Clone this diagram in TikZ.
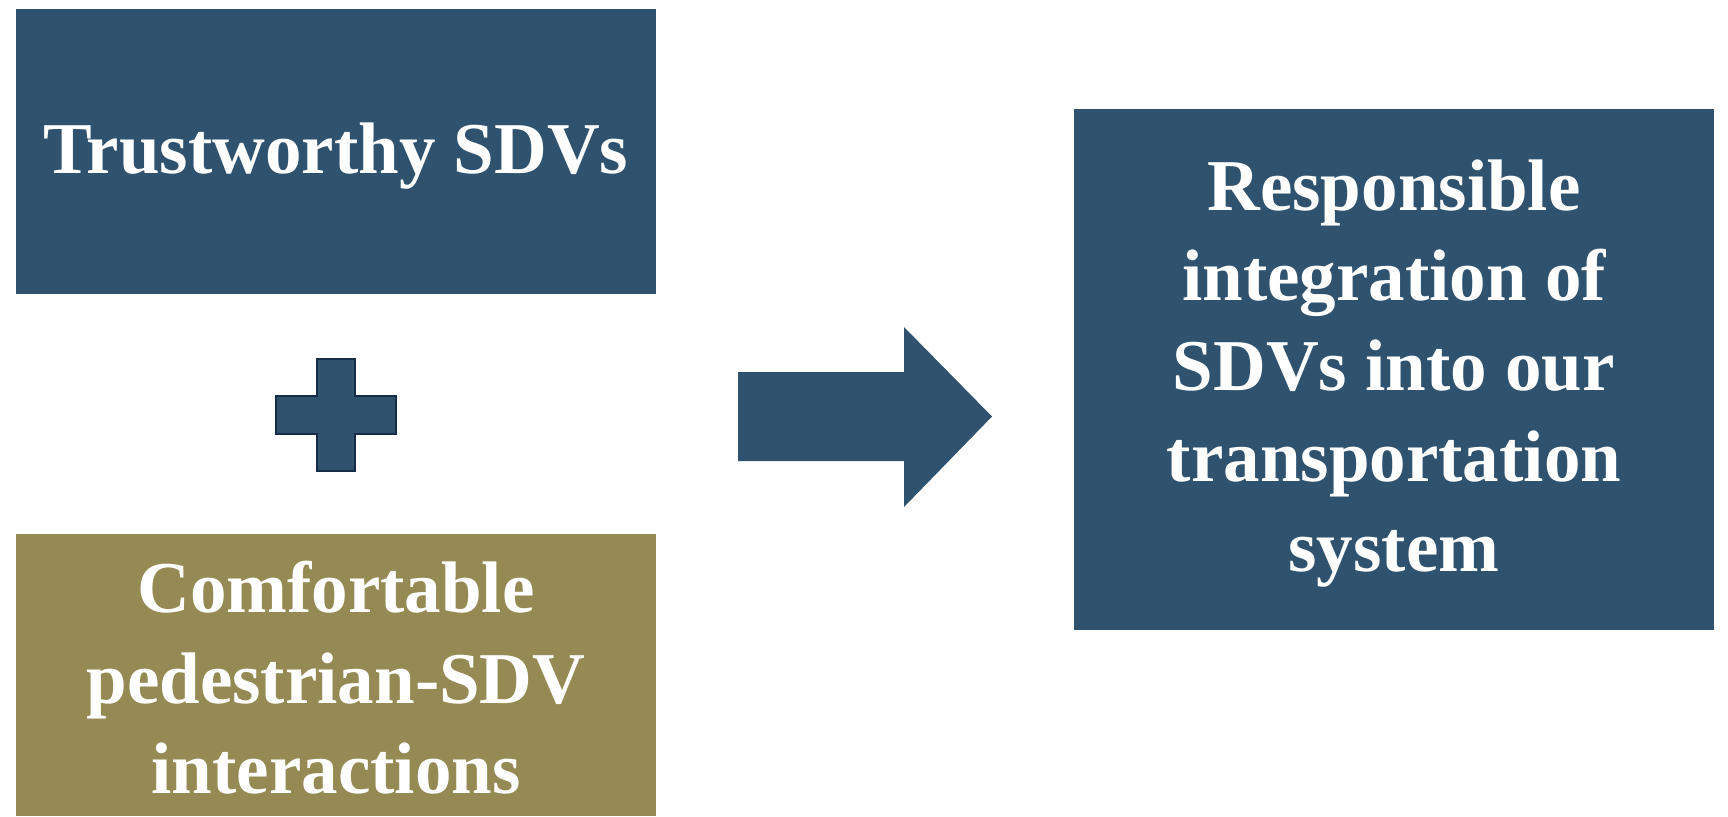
\documentclass[tikz,border=0pt]{standalone}
\usepackage{fontspec}
\setmainfont{Liberation Serif}
\definecolor{navy}{RGB}{47,82,110}
\definecolor{navyedge}{RGB}{22,45,72}
\definecolor{olive}{RGB}{149,138,83}
\begin{document}
\begin{tikzpicture}[x=0.5pt,y=-0.5pt,
  panel/.style={draw=none,inner sep=0pt,align=center,text=white,
    font=\bfseries\fontsize{36.5}{45.2}\selectfont},
  shapefill/.style={fill=navy}]
\useasboundingbox (0,0) rectangle (1728,816);
% left column: two boxes joined by a plus sign
\node[panel,fill=navy,minimum width=320pt,minimum height=142.5pt] (trust)
  at (336,151.5) {};
\node[panel] (trustlabel) at (trust.center) [yshift=-2.5pt] {Trustworthy SDVs};
\node[panel,fill=olive,minimum width=320pt,minimum height=141pt] (comfort)
  at (336,675) {};
\node[panel] (comfortlabel) at (comfort.center) [yshift=-1.5pt]
  {Comfortable\\pedestrian-SDV\\interactions};
\coordinate (plus) at (336,414.5);
\draw[shapefill,draw=navyedge,line width=1pt]
  ([shift={(-19,-56)}]plus) -- ([shift={(19,-56)}]plus) -- ([shift={(19,-19)}]plus)
  -- ([shift={(60,-19)}]plus) -- ([shift={(60,19)}]plus) -- ([shift={(19,19)}]plus)
  -- ([shift={(19,56)}]plus) -- ([shift={(-19,56)}]plus) -- ([shift={(-19,19)}]plus)
  -- ([shift={(-60,19)}]plus) -- ([shift={(-60,-19)}]plus) -- ([shift={(-19,-19)}]plus)
  -- cycle;
% block arrow towards the result
\coordinate (arrowtail) at (738,416.5);
\coordinate (arrowneck) at (904,416.5);
\coordinate (arrowtip) at (992,416.5);
\fill[shapefill] ([shift={(0,-44.5)}]arrowtail) -- ([shift={(0,-44.5)}]arrowneck)
  -- ([shift={(0,-89.5)}]arrowneck) -- (arrowtip) -- ([shift={(0,90.5)}]arrowneck)
  -- ([shift={(0,44.5)}]arrowneck) -- ([shift={(0,44.5)}]arrowtail) -- cycle;
% result box
\node[panel,fill=navy,minimum width=320pt,minimum height=260.5pt] (result)
  at (1394,369.5) {};
\node[panel] (resultlabel) at (result.center) [yshift=-2pt]
  {Responsible\\integration of\\SDVs into our\\transportation\\system};
\end{tikzpicture}
\end{document}
